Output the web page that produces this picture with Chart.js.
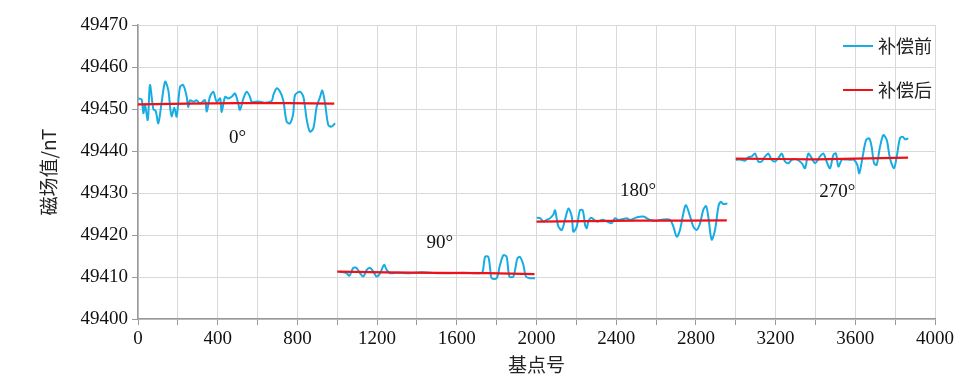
<!DOCTYPE html>
<html><head><meta charset="utf-8">
<script src="https://cdn.jsdelivr.net/npm/chart.js@4/dist/chart.umd.min.js"></script>
<style>html,body{margin:0;padding:0;background:#fff}#wrap{width:975px;height:383px}</style>
</head><body><div id="wrap"><canvas id="c"></canvas></div>
<script>
// ---- data ----
const seriesNames = ['补偿前', '补偿后'];
const xTitle = '基点号';
const yTitle = '磁场值/nT';
const headingLabels = ['0°', '90°', '180°', '270°'];
const headingX = [500, 1515, 2510, 3510];
const headingY = [49443, 49418, 49430.5, 49430.3];

const seg0X = [2,18,27,35,49,60,77,89,102,119,136,152,161,169,182,194,211,227,244,252,261,278,294,311,336,345,361,378,395,412,420,437,453,470,487,503,512,529,546,562,571,604,637,671,679,696,713,729,746,763,779,788,813,830,847,863,880,897,914,925,939,955,972,989];
const seg0Before = [49452.5,49452.3,49449,49451,49447.4,49455.7,49450,49449.5,49446.6,49451.7,49456.5,49454.5,49450.5,49448.2,49450.3,49448.2,49455.3,49455.7,49453,49450.5,49452.1,49451.7,49452.1,49451.3,49452.1,49449.4,49452.9,49454.1,49451.7,49452.5,49449.3,49452.9,49452.5,49452.9,49453.7,49451.3,49449.8,49452.5,49454.1,49452.9,49451.7,49451.8,49451.5,49451.9,49453.3,49454.9,49454.1,49452.1,49447,49446.6,49448.9,49453.3,49454.1,49452.9,49447.4,49444.6,49445.4,49450.6,49452.9,49454.4,49451.3,49446.2,49445.8,49446.6];

const seg1X = [1014,1047,1061,1081,1098,1114,1131,1148,1164,1181,1198,1215,1235,1248,1265,1298,1365,1415,1466,1549,1633,1717,1730,1742,1758,1767,1775,1800,1817,1834,1850,1864,1884,1904,1917,1934,1947,1967,1993];
const seg1Before = [49411.3,49410.9,49410.3,49412.2,49412.1,49410.9,49410.1,49411.7,49412.2,49411.3,49410.1,49410.9,49412.9,49411.7,49410.9,49411,49410.9,49411.1,49411,49410.9,49411,49410.9,49411.3,49414.8,49414.8,49412.1,49409.7,49409.7,49412.9,49415.2,49414.8,49410.1,49410.1,49414.4,49414.8,49412.9,49410.1,49409.7,49409.7];

const seg2X = [2001,2018,2034,2051,2068,2084,2093,2101,2110,2127,2143,2160,2177,2185,2202,2218,2232,2244,2252,2260,2272,2285,2302,2335,2377,2394,2411,2436,2453,2469,2503,2536,2570,2603,2637,2670,2687,2704,2720,2737,2750,2771,2787,2804,2821,2837,2851,2862,2879,2896,2913,2924,2938,2958];
const seg2Before = [49424.1,49424,49423.2,49423.6,49424,49424.8,49425.9,49424,49422,49421.2,49423.6,49426.3,49424.4,49420.8,49422,49425.9,49425.9,49422.4,49421.6,49423.2,49424.1,49423.8,49423.2,49423.6,49422.8,49424,49423.6,49423.8,49424,49423.6,49424.2,49424.4,49423.6,49423.4,49423.7,49423.6,49422,49419.6,49421.2,49425.2,49427.1,49424.4,49422,49421.2,49422.8,49426,49426.9,49424.4,49418.9,49421.2,49426.8,49427.9,49427.4,49427.5];

const seg3X = [3001,3021,3046,3063,3080,3097,3113,3130,3147,3164,3180,3197,3214,3231,3247,3264,3281,3306,3331,3348,3364,3381,3398,3423,3440,3456,3473,3490,3503,3515,3532,3548,3573,3594,3610,3620,3637,3654,3670,3682,3694,3707,3724,3741,3758,3774,3794,3808,3824,3838,3850,3866];
const seg3Before = [49437.9,49438,49437.7,49438.5,49438.7,49439.4,49437.5,49437.5,49438.7,49439.4,49437.9,49437.5,49438.3,49439.4,49437.5,49437.1,49437.9,49438,49437.1,49435.9,49439.4,49438.3,49437.1,49438.7,49439.4,49437.5,49435.9,49439.1,49439.4,49436.3,49437.9,49438,49437.9,49437.9,49436.7,49434.7,49438.7,49442.6,49443,49441,49437.1,49436.7,49441,49443.8,49442.6,49438.3,49435.9,49438.7,49443,49443.4,49442.8,49443];

const afterX = [[0,250,500,750,985],[1000,1250,1500,1750,1990],[2000,2250,2500,2750,2955],[3000,3200,3400,3600,3865]];
const afterY = [[49451.1,49451.3,49451.4,49451.4,49451.3],[49411.3,49411.1,49411.0,49410.9,49410.7],[49423.2,49423.3,49423.4,49423.4,49423.5],[49438.2,49438.1,49438.0,49438.2,49438.4]];

const xMin = 0, xMax = 4000, xStep = 200, xLabelStep = 400;
const yMin = 49400, yMax = 49470, yStep = 10;

// ---- build ----
function pts(xs, ys){ return xs.map((x,i)=>({x:x, y:ys[i]})); }
const beforeSegs = [[seg0X,seg0Before],[seg1X,seg1Before],[seg2X,seg2Before],[seg3X,seg3Before]];
const BLUE = '#17ace3', RED = '#ee1118';
const datasets = [];
beforeSegs.forEach(([xs,ys])=>datasets.push({data:pts(xs,ys), borderColor:BLUE, borderWidth:2, pointRadius:0, tension:0.3, order:2}));
afterX.forEach((xs,i)=>datasets.push({data:pts(xs,afterY[i]), borderColor:RED, borderWidth:2.2, pointRadius:0, tension:0, order:1}));

const serif = "'Liberation Serif', 'Times New Roman', serif";
const cjk = "'Noto Sans CJK SC', sans-serif";

const overlay = {
  id:'overlay',
  afterDatasetsDraw(chart){
    const ctx = chart.ctx, xs = chart.scales.x, ys = chart.scales.y;
    ctx.save();
    ctx.fillStyle = '#111';
    ctx.font = '19px ' + serif;
    ctx.textAlign = 'center'; ctx.textBaseline = 'middle';
    headingLabels.forEach((t,i)=>ctx.fillText(t, xs.getPixelForValue(headingX[i]), ys.getPixelForValue(headingY[i])));
    // legend
    const ca = chart.chartArea;
    const cols = [BLUE, RED];
    const lx = ca.right - 92;
    [ca.top + 21, ca.top + 65].forEach((y,i)=>{
      ctx.strokeStyle = cols[i]; ctx.lineWidth = 2;
      ctx.beginPath(); ctx.moveTo(lx, y); ctx.lineTo(lx + 30, y); ctx.stroke();
      ctx.fillStyle = '#222'; ctx.font = '18px ' + cjk; ctx.textAlign = 'left';
      ctx.fillText(seriesNames[i], lx + 35, y);
    });
    ctx.restore();
  }
};

new Chart(document.getElementById('c'), {
  type:'line',
  data:{datasets},
  options:{
    responsive:true, maintainAspectRatio:false, animation:false,
    layout:{padding:{top:25, right:40, bottom:0, left:0}},
    plugins:{legend:{display:false}, tooltip:{enabled:false}},
    scales:{
      x:{type:'linear', min:xMin, max:xMax,
        ticks:{stepSize:xStep, autoSkip:false, maxRotation:0, color:'#111', padding:3,
          font:{family:serif, size:19},
          callback:v=> (v % xLabelStep === 0) ? String(v) : ''},
        grid:{color:'#d9d9d9', tickColor:'#999', tickLength:6},
        border:{color:'#999', width:1.5},
        title:{display:true, text:xTitle, color:'#222', font:{family:cjk, size:19, lineHeight:1.2}, padding:{top:0,bottom:7}},
        afterFit(s){ s.height = 64; }
      },
      y:{min:yMin, max:yMax,
        ticks:{stepSize:yStep, color:'#111', padding:4, font:{family:serif, size:19},
          callback:v=>String(v)},
        grid:{color:'#d9d9d9', tickColor:'#999', tickLength:6},
        border:{color:'#999', width:1.5},
        title:{display:true, text:yTitle, color:'#222', font:{family:cjk, size:19, lineHeight:1.2}, padding:{top:37,bottom:0}},
        afterFit(s){ s.width = 138; }
      }
    }
  },
  plugins:[overlay]
});
</script></body></html>
